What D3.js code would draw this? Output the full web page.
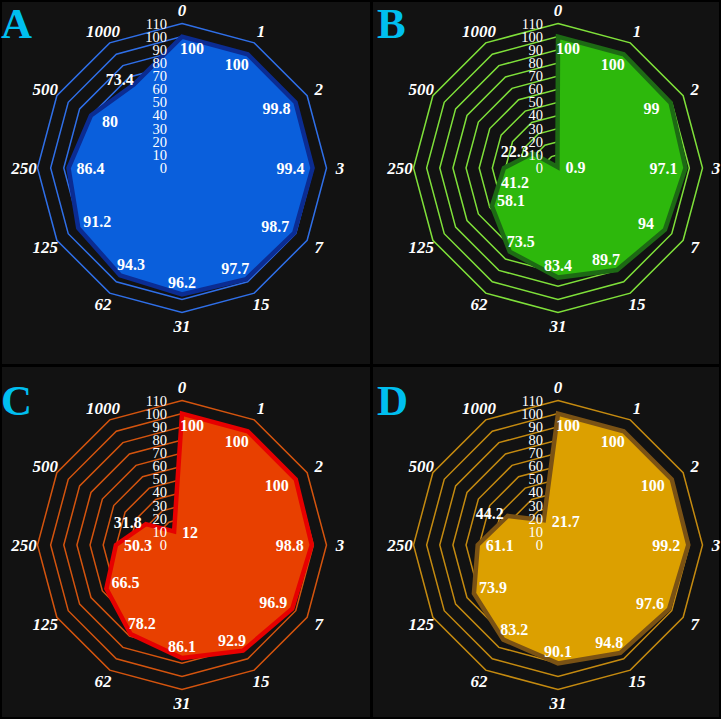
<!DOCTYPE html>
<html>
<head>
<meta charset="utf-8">
<script src="https://cdn.jsdelivr.net/npm/d3@7"></script>
<style>
  html, body { margin: 0; padding: 0; background: #000; }
  svg text { font-family: "Liberation Serif", "Times New Roman", serif; }
</style>
</head>
<body>
<div id="chart"></div>
<script>
// axis categories, clockwise from the top
var axes = ["0", "1", "2", "3", "7", "15", "31", "62", "125", "250", "500", "1000"];
var ticks = [0, 10, 20, 30, 40, 50, 60, 70, 80, 90, 100, 110];

var panelNames = ["A", "B", "C", "D"];
var valuesA = [100, 100, 99.8, 99.4, 98.7, 97.7, 96.2, 94.3, 91.2, 86.4, 80, 73.4];
var valuesB = [100, 100, 99, 97.1, 94, 89.7, 83.4, 73.5, 58.1, 41.2, 22.3, 0.9];
var valuesC = [100, 100, 100, 98.8, 96.9, 92.9, 86.1, 78.2, 66.5, 50.3, 31.8, 12];
var valuesD = [100, 100, 100, 99.2, 97.6, 94.8, 90.1, 83.2, 73.9, 61.1, 44.2, 21.7];

var svgWidth = 721;
var svgHeight = 719;

// per panel look: ring, fill, outline
var looks = [
    { ring: "#2f6fe8", fill: "#0a5fdc", stroke: "#0b2c92" },
    { ring: "#7fe03a", fill: "#2db80c", stroke: "#1d6a14" },
    { ring: "#d4540e", fill: "#e84000", stroke: "#e60000" },
    { ring: "#c48a10", fill: "#dca000", stroke: "#7a5214" }
];

var panels = [
    { x: 2, y: 2, w: 368, h: 362, cx: 182, cy: 168, values: valuesA },
    { x: 373, y: 2, w: 346, h: 362, cx: 558, cy: 168, values: valuesB },
    { x: 2, y: 367, w: 368, h: 350, cx: 182, cy: 545, values: valuesC },
    { x: 373, y: 367, w: 346, h: 350, cx: 558, cy: 545, values: valuesD }
];

var svg = d3.select("#chart")
    .append("svg")
    .attr("width", svgWidth)
    .attr("height", svgHeight);

svg.append("rect")
    .attr("width", svgWidth)
    .attr("height", svgHeight)
    .attr("fill", "#000");

// scales shared by every panel
var rScale = d3.scaleLinear().domain([0, 110]).range([0, 144.5]);
var angle = d3.scaleBand().domain(axes).range([0, 2 * Math.PI]).align(0);

var radial = d3.lineRadial()
    .angle(d => angle(d.axis))
    .radius(d => rScale(d.value))
    .curve(d3.curveLinearClosed);

function point(axis, value) {
    var a = angle(axis);
    return [Math.sin(a) * rScale(value), -Math.cos(a) * rScale(value)];
}

panels.forEach(function (p, i) {
    var look = looks[i];

    svg.append("rect")
        .attr("x", p.x)
        .attr("y", p.y)
        .attr("width", p.w)
        .attr("height", p.h)
        .attr("fill", "#121212");

    var g = svg.append("g")
        .attr("transform", `translate(${p.cx}, ${p.cy})`);

    // grid rings
    g.selectAll(".ring")
        .data(ticks.slice(1))
        .enter()
        .append("path")
        .attr("class", "ring")
        .attr("d", t => radial(axes.map(a => ({ axis: a, value: t }))))
        .attr("fill", "none")
        .attr("stroke", look.ring)
        .attr("stroke-width", 1.5);

    var data = axes.map((a, k) => ({ axis: a, value: p.values[k], index: k }));

    // filled area
    g.append("path")
        .attr("d", radial(data))
        .attr("fill", look.fill)
        .attr("stroke", look.stroke)
        .attr("stroke-width", 4.5)
        .attr("stroke-linejoin", "miter");

    // tick labels on the 0 axis
    g.selectAll(".tick")
        .data(ticks)
        .enter()
        .append("text")
        .attr("class", "tick")
        .attr("x", -15)
        .attr("y", t => -rScale(t))
        .attr("text-anchor", "end")
        .attr("dominant-baseline", "central")
        .attr("fill", "#fff")
        .style("font-size", "14.5px")
        .text(t => t);

    // value labels, pushed inward; the few in the notch sit beside their point
    g.selectAll(".value")
        .data(data)
        .enter()
        .append("text")
        .attr("class", "value")
        .each(function (d) {
            var v = point(d.axis, d.value);
            var a = angle(d.axis);
            var x = v[0] - Math.sin(a) * 22;
            var y = v[1] + Math.cos(a) * 12;
            var anchor = "middle";
            if (d.index === 0) x += 10;
            if (d.index === 11) {
                if (d.value < 40) { x = v[0] + 8; y = v[1] + 1; anchor = "start"; }
                else { x = v[0]; y = v[1] - 5; anchor = "end"; }
            }
            if (d.index === 10 && d.value < 50) {
                x = v[0] - 4; y = v[1] - 2; anchor = "end";
            }
            if (d.index === 9 && d.value < 50) {
                x = v[0] + 11; y = v[1] + 14;
            }
            d3.select(this)
                .attr("x", x)
                .attr("y", y)
                .attr("text-anchor", anchor);
        })
        .attr("dominant-baseline", "central")
        .attr("fill", "#fff")
        .style("font-size", "16px")
        .style("font-weight", "bold")
        .text(d => d.value);

    // axis names
    g.selectAll(".axis")
        .data(axes)
        .enter()
        .append("text")
        .attr("class", "axis")
        .attr("x", a => Math.sin(angle(a)) * 158)
        .attr("y", a => -Math.cos(angle(a)) * 158)
        .attr("text-anchor", "middle")
        .attr("dominant-baseline", "central")
        .attr("fill", "#fff")
        .style("font-size", "17px")
        .style("font-weight", "bold")
        .style("font-style", "italic")
        .text(a => a);

    // panel letter
    g.append("text")
        .attr("x", -181)
        .attr("y", -130)
        .attr("fill", "#00bff0")
        .style("font-size", "43px")
        .style("font-weight", "bold")
        .text(panelNames[i]);
});
</script>
</body>
</html>
